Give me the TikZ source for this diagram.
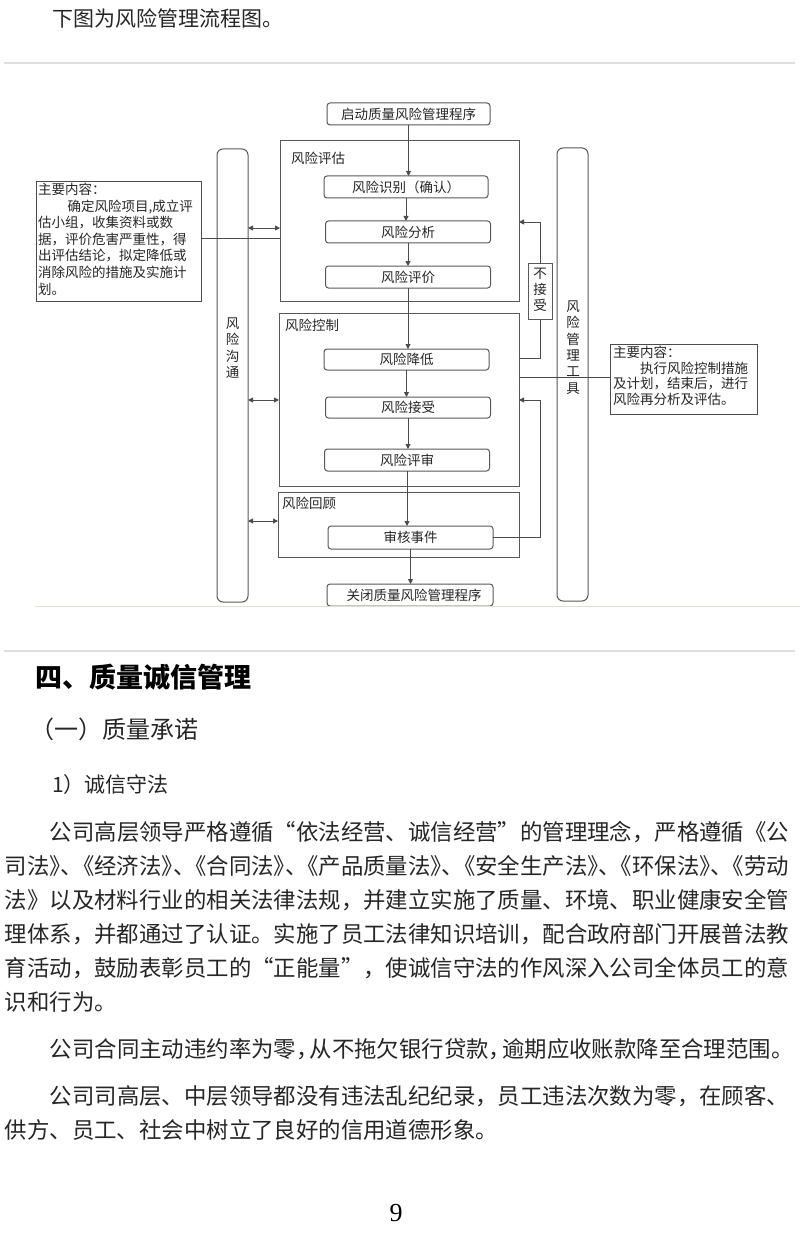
\documentclass[tikz,border=0pt]{standalone}
\usepackage{fontspec}
\setmainfont{Noto Sans CJK SC}
\newfontfamily\numfont{Liberation Serif}
\usetikzlibrary{arrows.meta}
\XeTeXlinebreaklocale "zh"
\XeTeXlinebreakskip=0pt plus 3pt minus 1.5pt
\newcommand\dsep{》\kern-.5em、\kern-.5em《}
\begin{document}
\begin{tikzpicture}[x=1pt,y=-1pt,
  ln/.style={draw=black!70, line width=0.9pt},
  arr/.style={ln, -{Triangle[length=5pt,width=5pt]}},
  darr/.style={ln, {Triangle[length=5pt,width=5pt]}-{Triangle[length=5pt,width=5pt]}},
  dfont/.style={font=\fontsize{13.5}{15}\selectfont, text=black!85},
  box/.style={draw=black!65, line width=1pt, rounded corners=3pt, inner sep=0pt, outer sep=0pt, dfont},
  cont/.style={draw=black!65, line width=1pt, inner sep=0pt, outer sep=0pt},
  bar/.style={draw=black!65, line width=1pt, rounded corners=6pt, inner sep=0pt, outer sep=0pt},
  sq/.style={draw=black!70, line width=1pt, inner sep=0pt, outer sep=0pt},
  lab/.style={inner sep=0pt, dfont, anchor=west},
  vlab/.style={inner sep=0pt, align=center, font=\fontsize{13.5}{16.3}\selectfont, text=black!85},
  body/.style={inner sep=0pt, anchor=west, font=\fontsize{22.4}{26}\selectfont, text=black!85},
  every node/.append style={outer sep=0pt}]
\useasboundingbox[fill=white] (0,0) rectangle (800,1241);

% page text above
\node[body, font=\fontsize{21}{24}\selectfont] (intro) at (52,18) {下图为风险管理流程图。};
\draw[black!13, line width=1.2pt] (4,63) -- (795,63);

% containers
\node[cont, minimum width=239pt, minimum height=160pt] (assess) at (399.5,221) {};
\node[cont, minimum width=240pt, minimum height=173pt] (ctrl) at (399,399.5) {};
\node[cont, minimum width=241pt, minimum height=65pt] (review) at (398.5,524.5) {};
\node[lab] (assessl) at (291,158) {风险评估};
\node[lab] (ctrll) at (285,325) {风险控制};
\node[lab] (reviewl) at (282,503) {风险回顾};

% flow boxes
\node[box, minimum width=163pt, minimum height=22pt] (start) at (408.5,114) {启动质量风险管理程序};
\node[box, minimum width=164pt, minimum height=22pt] (rid) at (406,187) {风险识别（确认）};
\node[box, minimum width=165pt, minimum height=22pt] (ana) at (408,232) {风险分析};
\node[box, minimum width=165pt, minimum height=22pt] (evalu) at (408,277) {风险评价};
\node[box, minimum width=165pt, minimum height=21pt] (red) at (406.5,359.5) {风险降低};
\node[box, minimum width=165pt, minimum height=21pt] (acc) at (408,407.5) {风险接受};
\node[box, minimum width=165pt, minimum height=22pt] (rev) at (407,460) {风险评审};
\node[box, minimum width=165pt, minimum height=23pt] (audit) at (410.5,537.5) {审核事件};
\node[box, minimum width=166pt, minimum height=22pt] (close) at (410,595) {\hspace*{8pt}关闭质量风险管理程序};

% side bars
\node[bar, minimum width=31pt, minimum height=453pt] (comm) at (232.5,375.5) {};
\node[bar, minimum width=31pt, minimum height=453pt] (tool) at (572.5,374.5) {};
\node[vlab] (comml) at (232.5,348) {风\\险\\沟\\通};
\node[vlab] (tooll) at (573,347.5) {风\\险\\管\\理\\工\\具};

% side content boxes
\node[sq, minimum width=165pt, minimum height=119pt] (leftbox) at (118.5,241.5) {};
\node[inner sep=0pt, anchor=north west, align=left, font=\fontsize{13.5}{16.6}\selectfont, text=black!85] (lefttext) at (38,183)
  {主要内容：\\\hspace*{2.2em}确定风险项目,成立评\\估小组，收集资料或数\\据，评价危害严重性，得\\出评估结论，拟定降低或\\消除风险的措施及实施计\\划。};
\node[sq, minimum width=147pt, minimum height=70pt] (rightbox) at (683.5,379) {};
\node[inner sep=0pt, anchor=north west, align=left, font=\fontsize{13.5}{15.7}\selectfont, text=black!85] (righttext) at (613,346)
  {主要内容：\\\hspace*{2em}执行风险控制措施\\及计划，结束后，进行\\风险再分析及评估。};

% not accepted
\node[sq, draw=black!65, minimum width=24pt, minimum height=56pt, fill=white] (nj) at (540,291.5) {};
\node[vlab] (njl) at (540,290) {不\\接\\受};

% main flow arrows
\draw[arr] (start.south) -- (start.south |- rid.north);
\draw[arr] (rid.south) -- (rid.south |- ana.north);
\draw[arr] (ana.south) -- (ana.south |- evalu.north);
\draw[arr] (evalu.south) -- (evalu.south |- red.north);
\draw[arr] (red.south) -- (red.south |- acc.north);
\draw[arr] (acc.south) -- (acc.south |- rev.north);
\draw[arr] (rev.south) -- (rev.south |- audit.north);
\draw[arr] (audit.south) -- (audit.south |- close.north);

% feedback loops
\coordinate (fb1) at (540,358);
\coordinate (fbtop) at (540,222);
\draw[ln] (ctrl.east |- fb1) -- (fb1) -- (nj.south);
\draw[arr] (nj.north) -- (fbtop) -- (assess.east |- fbtop);
\coordinate (fb2) at (540,400);
\draw[arr] (audit.east) -- (audit.east -| fb2) -- (fb2) -- (ctrl.east |- fb2);

% communication arrows
\coordinate (d1) at (0,228);
\coordinate (d2) at (0,400);
\coordinate (d3) at (0,521);
\draw[darr] (comm.east |- d1) -- (assess.west |- d1);
\draw[darr] (comm.east |- d2) -- (ctrl.west |- d2);
\draw[darr] (comm.east |- d3) -- (review.west |- d3);

% content links
\coordinate (l1) at (0,238);
\draw[ln] (leftbox.east |- l1) -- (assess.west |- l1);
\coordinate (r1) at (0,377);
\draw[ln] (ctrl.east |- r1) -- (rightbox.west |- r1);

% bottom rule of figure
\draw[color={rgb,255:red,226;green,223;blue,208}, line width=1.6pt] (35,606.5) -- (800,606.5);
\draw[black!13, line width=1.2pt] (4,651) -- (795,651);

% headings
\node[body, text=black, font=\fontsize{27}{30}\selectfont\bfseries] (h1) at (35,677) {四、质量诚信管理};
\node[body, font=\fontsize{24}{27}\selectfont] (h2) at (30,729) {（一）质量承诺};
\node[body, font=\fontsize{21}{24}\selectfont] (h3) at (52,785) {1）诚信守法};

% body paragraphs
\node[body] (p1) at (5,832) {\hbox to 785pt{\hskip2em 公司高层领导严格遵循“依法经营、诚信经营”的管理理念，严格遵循《公}};
\node[body] (p2) at (5,866) {\hbox to 785pt{司法\dsep 经济法\dsep 合同法\dsep 产品质量法\dsep 安全生产法\dsep 环保法\dsep 劳动}};
\node[body] (p3) at (5,900) {\hbox to 785pt{法》以及材料行业的相关法律法规，并建立实施了质量、环境、职业健康安全管}};
\node[body] (p4) at (5,934) {\hbox to 785pt{理体系，并都通过了认证。实施了员工法律知识培训，配合政府部门开展普法教}};
\node[body] (p5) at (5,968) {\hbox to 785pt{育活动，鼓励表彰员工的“正能量”，使诚信守法的作风深入公司全体员工的意}};
\node[body] (p6) at (5,1002) {识和行为。};
\node[body] (p7) at (5,1049) {\hbox to 785pt{\hskip2em 公司合同主动违约率为零，\kern-.4em 从不拖欠银行贷款，\kern-.4em 逾期应收账款降至合理范围。}};
\node[body] (p8) at (5,1096) {\hbox to 785pt{\hskip2em 公司司高层、中层领导都没有违法乱纪纪录，员工违法次数为零，在顾客、}};
\node[body] (p9) at (5,1130) {供方、员工、社会中树立了良好的信用道德形象。};

\node[inner sep=0pt, font=\numfont\fontsize{26}{28}\selectfont] (pg) at (396,1213) {9};
\end{tikzpicture}
\end{document}
